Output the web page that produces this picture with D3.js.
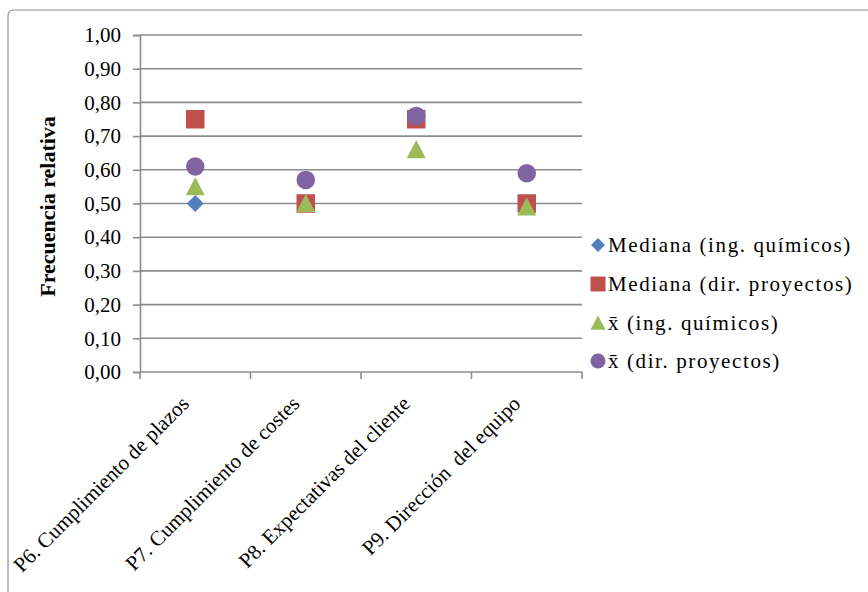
<!DOCTYPE html>
<html>
<head>
<meta charset="utf-8">
<script src="https://cdn.jsdelivr.net/npm/d3@7/dist/d3.min.js"></script>
<style>
  html, body { margin: 0; padding: 0; background: #fff; }
  svg { display: block; }
  text { font-family: "Liberation Serif", "Times New Roman", serif; fill: #000; }
</style>
</head>
<body>
<svg id="chart" width="868" height="592"></svg>
<script>
// Categories (questions) and the four series of relative frequencies
const categories = [
  "P6. Cumplimiento de plazos",
  "P7. Cumplimiento de costes",
  "P8. Expectativas del cliente",
  "P9. Dirección\u00a0 del equipo"
];
const medianaIng = [0.50, 0.50, 0.75, 0.50];
const medianaDir = [0.75, 0.50, 0.75, 0.50];
const mediaIng   = [0.55, 0.50, 0.66, 0.49];
const mediaDir   = [0.61, 0.57, 0.76, 0.59];
const yTicks = [0, 0.1, 0.2, 0.3, 0.4, 0.5, 0.6, 0.7, 0.8, 0.9, 1.0];

const seriesNames = [
  "Mediana (ing. químicos)",
  "Mediana (dir. proyectos)",
  "x\u0304 (ing. químicos)",
  "x\u0304 (dir. proyectos)"
];
const seriesValues = [medianaIng, medianaDir, mediaIng, mediaDir];
const seriesColors = ["#4F81BD", "#C0504D", "#9BBB59", "#8064A2"];
const seriesShapes = ["diamond", "square", "triangle", "circle"];

const FONT = "'Liberation Serif', 'Times New Roman', serif";
const svg = d3.select("#chart");
const plot = { left: 140, right: 582, top: 35, bottom: 372 };

// Outer frame (top and left edges with a rounded corner)
svg.append("path")
  .attr("d", "M8,592 L8,16 Q8,10 14,10 L868,10")
  .attr("fill", "none")
  .attr("stroke", "#8c8c8c")
  .attr("stroke-width", 1.2);

const x = d3.scaleBand().domain(categories).range([plot.left, plot.right]);
const y = d3.scaleLinear().domain([0, 1]).range([plot.bottom, plot.top]);

// Horizontal gridlines
svg.append("g")
  .selectAll("line")
  .data(yTicks.filter(d => d > 0))
  .join("line")
  .attr("x1", plot.left).attr("x2", plot.right)
  .attr("y1", d => y(d)).attr("y2", d => y(d))
  .attr("stroke", "#8c8c8c").attr("stroke-width", 1.6);

// Y axis
const fmt = d => d3.format(".2f")(d).replace(".", ",");
const yAxis = svg.append("g")
  .attr("transform", `translate(${plot.left},0)`)
  .call(d3.axisLeft(y).tickValues(yTicks).tickFormat(fmt).tickSize(7).tickPadding(12));
yAxis.select(".domain").attr("stroke", "#8c8c8c").attr("stroke-width", 1.6);
yAxis.selectAll(".tick line").attr("stroke", "#8c8c8c").attr("stroke-width", 1.6);
yAxis.selectAll(".tick text")
  .attr("font-family", FONT)
  .attr("font-size", 21)
  .attr("fill", "#000");

// X axis: ticks between categories
const xAxisG = svg.append("g").attr("transform", `translate(0,${plot.bottom})`);
xAxisG.append("line")
  .attr("x1", plot.left).attr("x2", plot.right)
  .attr("stroke", "#8c8c8c").attr("stroke-width", 1.6);
const boundaries = categories.map(c => x(c)).concat([x(categories[categories.length - 1]) + x.bandwidth()]);
xAxisG.selectAll("line.tick")
  .data(boundaries)
  .join("line")
  .attr("class", "tick")
  .attr("x1", d => d).attr("x2", d => d)
  .attr("y1", 0).attr("y2", 7)
  .attr("stroke", "#8c8c8c").attr("stroke-width", 1.6);

// Rotated category labels
xAxisG.selectAll("text.cat")
  .data(categories)
  .join("text")
  .attr("class", "cat")
  .attr("text-anchor", "end")
  .attr("font-family", FONT)
  .attr("font-size", 21)
  .attr("transform", d => `translate(${x(d) + x.bandwidth() / 2 - 5},${33}) rotate(-45)`)
  .text(d => d);

// Y axis title
svg.append("text")
  .attr("transform", `translate(55,${(plot.top + plot.bottom) / 2 + 3}) rotate(-90)`)
  .attr("text-anchor", "middle")
  .attr("font-family", FONT)
  .attr("font-weight", "bold")
  .attr("font-size", 22)
  .text("Frecuencia relativa");

// Marker shape generator
function shapePath(shape, s) {
  const h = s / 2;
  switch (shape) {
    case "diamond": return `M0,${-h}L${h},0L0,${h}L${-h},0Z`;
    case "square": return `M${-h},${-h}H${h}V${h}H${-h}Z`;
    case "triangle": return `M0,${-h}L${h},${h * 0.9}L${-h},${h * 0.9}Z`;
    case "circle": return d3.arc()({ innerRadius: 0, outerRadius: h, startAngle: 0, endAngle: 2 * Math.PI });
  }
}
const markerSize = { diamond: 17, square: 18.5, triangle: 19, circle: 18.5 };

// Data markers
seriesValues.forEach((vals, i) => {
  svg.append("g")
    .selectAll("path")
    .data(vals)
    .join("path")
    .attr("transform", (d, j) => `translate(${x(categories[j]) + x.bandwidth() / 2},${y(d)})`)
    .attr("d", shapePath(seriesShapes[i], markerSize[seriesShapes[i]]))
    .attr("fill", seriesColors[i]);
});

// Legend
const legend = svg.append("g");
const legendY = [245, 284, 323, 361];
seriesNames.forEach((name, i) => {
  const g = legend.append("g").attr("transform", `translate(598,${legendY[i]})`);
  const ls = { diamond: 14, square: 15, triangle: 15, circle: 15 }[seriesShapes[i]];
  g.append("path").attr("d", shapePath(seriesShapes[i], ls)).attr("fill", seriesColors[i]);
  g.append("text")
    .attr("x", 10)
    .attr("y", 7)
    .attr("font-family", FONT)
    .attr("font-size", 21)
    .attr("letter-spacing", 1.6)
    .text(name);
});
</script>
</body>
</html>
